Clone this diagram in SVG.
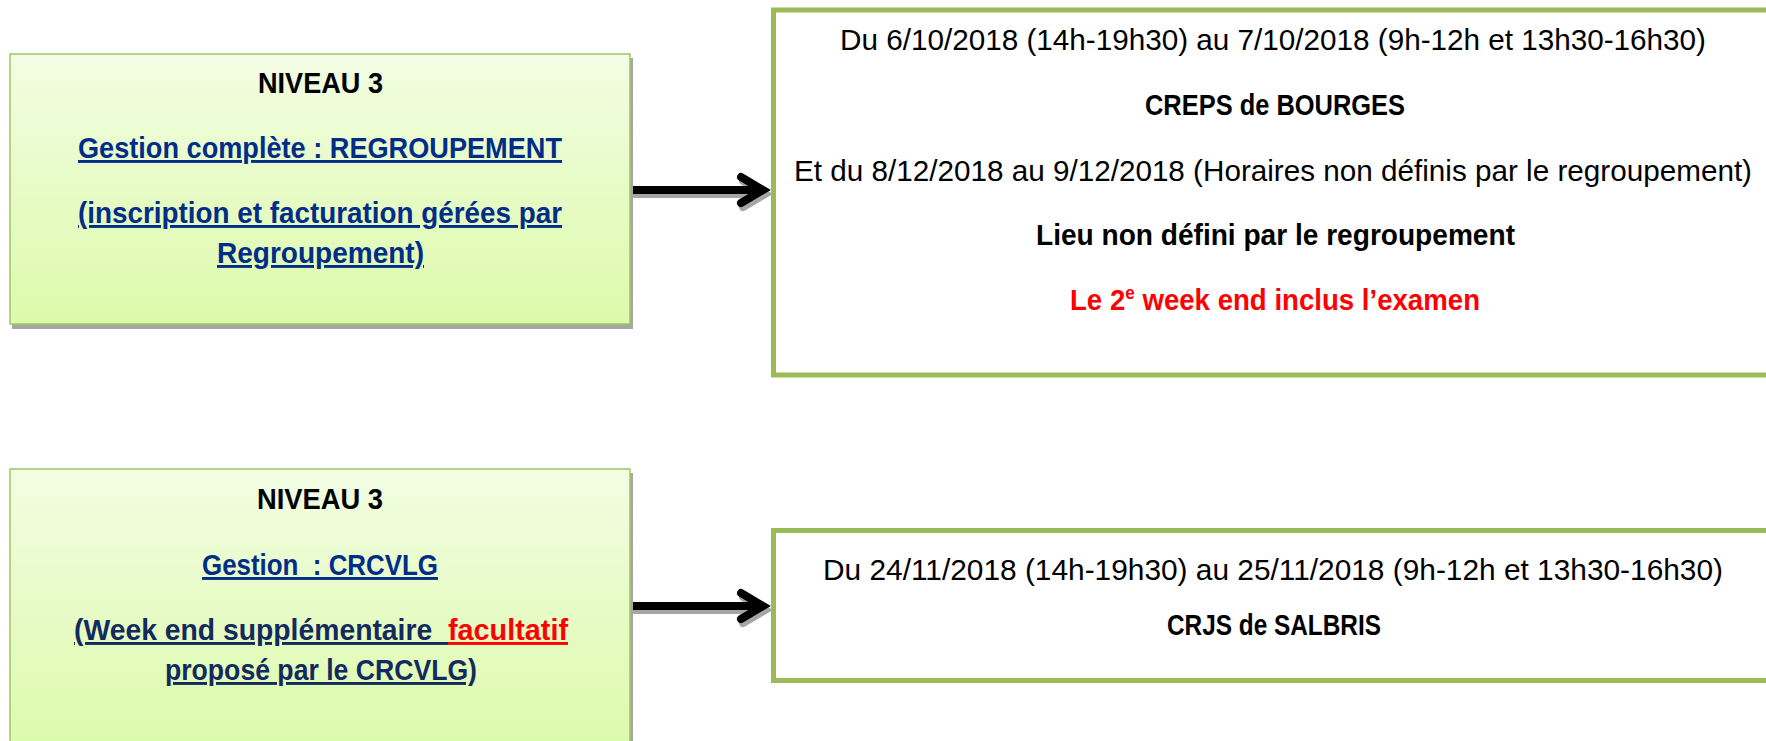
<svg xmlns="http://www.w3.org/2000/svg" width="1766" height="741" viewBox="0 0 1766 741">
<defs>
<linearGradient id="gfill" x1="0" y1="0" x2="0" y2="1">
<stop offset="0" stop-color="#F2FDE3"/>
<stop offset="1" stop-color="#DCFAAA"/>
</linearGradient>
<marker id="head" markerUnits="userSpaceOnUse" viewBox="0 0 40 40" markerWidth="40" markerHeight="40" refX="30" refY="20" orient="auto">
<path d="M8,7 L30,20 L8,33" fill="none" stroke="#000" stroke-width="8" stroke-linecap="round" stroke-linejoin="miter"/>
</marker>
<marker id="headShadow" markerUnits="userSpaceOnUse" viewBox="0 0 40 40" markerWidth="40" markerHeight="40" refX="30" refY="20" orient="auto">
<path d="M8,7 L30,20 L8,33" fill="none" stroke="#A6A6A6" stroke-width="8" stroke-linecap="round" stroke-linejoin="miter"/>
</marker>
</defs>
<style>
.lbox{fill:url(#gfill);stroke:#A3C466;stroke-width:1.5}
.shadow{fill:#A6A6A6}
.rbox{fill:#FFFFFF;stroke:#9BBB59;stroke-width:5}
text{font-family:"Liberation Sans",Arial,sans-serif;font-size:29px;white-space:pre}
.b{font-weight:bold}
.blk{fill:#000000}
.blue{fill:#002D87;text-decoration:underline}
.navy{fill:#132A5E;text-decoration:underline}
.redu{fill:#FF0000;text-decoration:underline}
.red{fill:#FF0000}
.conn{fill:none;stroke:#000;stroke-width:8;marker-end:url(#head)}
.connS{fill:none;stroke:#A6A6A6;stroke-width:8;marker-end:url(#headShadow)}
</style>
<rect width="1766" height="741" fill="#FFFFFF"/>

<g id="connectors">
<line class="connS" x1="630" y1="194" x2="765" y2="194"/>
<line class="conn" x1="630" y1="190" x2="763" y2="190"/>
<line class="connS" x1="630" y1="610" x2="765" y2="610"/>
<line class="conn" x1="630" y1="606" x2="763" y2="606"/>
</g>

<g id="node-niveau3-regroupement">
<rect class="shadow" x="12" y="58" width="621" height="271"/>
<rect class="lbox" x="10" y="54" width="620" height="270"/>
<text class="b blk" x="258" y="93" textLength="125" lengthAdjust="spacingAndGlyphs">NIVEAU 3</text>
<text class="b blue" x="78" y="158" textLength="484" lengthAdjust="spacingAndGlyphs">Gestion complète : REGROUPEMENT</text>
<text class="b blue" x="78" y="223" textLength="484" lengthAdjust="spacingAndGlyphs">(inscription et facturation gérées par</text>
<text class="b blue" x="217" y="263" textLength="207" lengthAdjust="spacingAndGlyphs">Regroupement)</text>
</g>

<g id="node-bourges">
<rect class="rbox" x="773.5" y="10" width="1100" height="365"/>
<text class="blk" x="840" y="50" textLength="866" lengthAdjust="spacingAndGlyphs">Du 6/10/2018 (14h-19h30) au 7/10/2018 (9h-12h et 13h30-16h30)</text>
<text class="b blk" x="1145" y="115" textLength="260" lengthAdjust="spacingAndGlyphs">CREPS de BOURGES</text>
<text class="blk" x="794" y="181" textLength="958" lengthAdjust="spacingAndGlyphs">Et du 8/12/2018 au 9/12/2018 (Horaires non définis par le regroupement)</text>
<text class="b blk" x="1036" y="245" textLength="479" lengthAdjust="spacingAndGlyphs">Lieu non défini par le regroupement</text>
<text class="b red" x="1070" y="310" textLength="410" lengthAdjust="spacingAndGlyphs">Le 2<tspan dy="-11" style="font-size:18px">e</tspan><tspan dy="11"> week end inclus l’examen</tspan></text>
</g>

<g id="node-niveau3-crcvlg">
<rect class="shadow" x="12" y="473" width="621" height="280"/>
<rect class="lbox" x="10" y="469" width="620" height="280"/>
<text class="b blk" x="257" y="509" textLength="126" lengthAdjust="spacingAndGlyphs">NIVEAU 3</text>
<text class="b blue" x="202" y="575" textLength="236" lengthAdjust="spacingAndGlyphs">Gestion  : CRCVLG</text>
<text class="b navy" x="74" y="640" textLength="374" lengthAdjust="spacingAndGlyphs">(Week end supplémentaire  </text>
<text class="b redu" x="448" y="640" textLength="120" lengthAdjust="spacingAndGlyphs">facultatif</text>
<text class="b navy" x="165" y="680" textLength="312" lengthAdjust="spacingAndGlyphs">proposé par le CRCVLG)</text>
</g>

<g id="node-salbris">
<rect class="rbox" x="773.5" y="530.5" width="1100" height="150"/>
<text class="blk" x="823" y="580" textLength="900" lengthAdjust="spacingAndGlyphs">Du 24/11/2018 (14h-19h30) au 25/11/2018 (9h-12h et 13h30-16h30)</text>
<text class="b blk" x="1167" y="635" textLength="214" lengthAdjust="spacingAndGlyphs">CRJS de SALBRIS</text>
</g>
</svg>
